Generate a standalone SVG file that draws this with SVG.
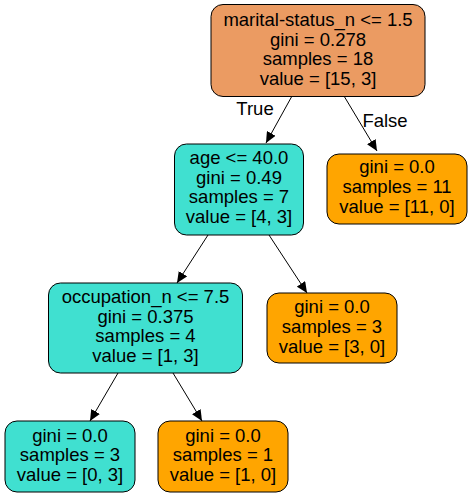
<svg xmlns="http://www.w3.org/2000/svg" width="473" height="497" viewBox="0 0 473 497">
<defs>
<marker id="arr" markerWidth="12" markerHeight="10" refX="11" refY="5" orient="auto" markerUnits="userSpaceOnUse">
<path d="M0,0 L11,5 L0,10 Z" fill="#000"/>
</marker>
<style>
.n rect{stroke:#000;stroke-width:1}
.o{fill:#ffa500}
.t{fill:#40e0d0}
.r{fill:#eb9b62}
text{font-family:"Liberation Sans",Arial,sans-serif;font-size:18.5px;fill:#000;text-anchor:middle}
.e line{stroke:#000;stroke-width:1;marker-end:url(#arr)}
</style>
</defs>
<rect width="473" height="497" fill="#fff"/>
<g class="e" id="edges">
<line x1="292" y1="96" x2="266" y2="143"/>
<line x1="344" y1="96" x2="377" y2="151"/>
<line x1="208" y1="235" x2="177" y2="283"/>
<line x1="269" y1="235" x2="307" y2="293"/>
<line x1="118" y1="373" x2="90" y2="421"/>
<line x1="173" y1="373" x2="202" y2="421"/>
<text x="255" y="115">True</text>
<text x="385" y="127">False</text>
</g>
<g class="n" id="n0">
<rect class="r" x="211" y="4.5" width="214" height="92" rx="12"/>
<text x="318" y="26">marital-status_n &lt;= 1.5</text>
<text x="318" y="45.7">gini = 0.278</text>
<text x="318" y="65.4">samples = 18</text>
<text x="318" y="85">value = [15, 3]</text>
</g>
<g class="n" id="n1">
<rect class="t" x="174.5" y="144" width="129" height="91" rx="12"/>
<text x="239" y="164">age &lt;= 40.0</text>
<text x="239" y="184">gini = 0.49</text>
<text x="239" y="203">samples = 7</text>
<text x="239" y="223">value = [4, 3]</text>
</g>
<g class="n" id="n2">
<rect class="o" x="327" y="154" width="140" height="70" rx="12"/>
<text x="397" y="173">gini = 0.0</text>
<text x="397" y="193">samples = 11</text>
<text x="397" y="213">value = [11, 0]</text>
</g>
<g class="n" id="n3">
<rect class="t" x="48.5" y="283" width="194" height="90" rx="12"/>
<text x="145.5" y="303">occupation_n &lt;= 7.5</text>
<text x="145.5" y="323">gini = 0.375</text>
<text x="145.5" y="342">samples = 4</text>
<text x="145.5" y="362">value = [1, 3]</text>
</g>
<g class="n" id="n4">
<rect class="o" x="267" y="293" width="130" height="70" rx="12"/>
<text x="332" y="313">gini = 0.0</text>
<text x="332" y="333">samples = 3</text>
<text x="332" y="353">value = [3, 0]</text>
</g>
<g class="n" id="n5">
<rect class="t" x="5" y="421" width="130" height="71" rx="12"/>
<text x="70" y="442">gini = 0.0</text>
<text x="70" y="461">samples = 3</text>
<text x="70" y="481">value = [0, 3]</text>
</g>
<g class="n" id="n6">
<rect class="o" x="158" y="421" width="130" height="71" rx="12"/>
<text x="223" y="442">gini = 0.0</text>
<text x="223" y="461">samples = 1</text>
<text x="223" y="481">value = [1, 0]</text>
</g>
</svg>
